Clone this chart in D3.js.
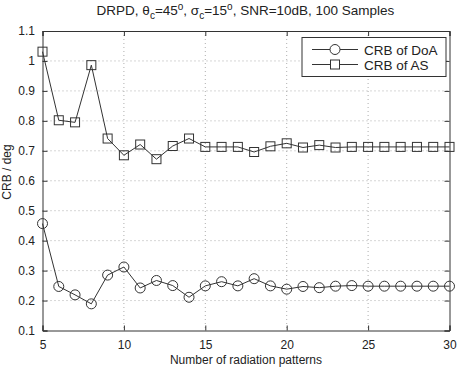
<!DOCTYPE html>
<html>
<head>
<meta charset="utf-8">
<script src="https://cdn.jsdelivr.net/npm/d3@7"></script>
<style>
  body { margin: 0; background: #fff; }
  svg { display: block; font-family: "Liberation Sans", Arial, sans-serif; }
</style>
</head>
<body>
<svg id="chart" width="459" height="370"></svg>
<script>
// values
const patterns = [5, 6, 7, 8, 9, 10, 11, 12, 13, 14, 15, 16, 17, 18, 19, 20, 21, 22, 23, 24, 25, 26, 27, 28, 29, 30];
const crbDoA = [0.457, 0.247, 0.219, 0.189, 0.285, 0.312, 0.242, 0.267, 0.250, 0.211, 0.249, 0.263, 0.249, 0.273, 0.249, 0.238, 0.247, 0.243, 0.248, 0.250, 0.248, 0.248, 0.248, 0.248, 0.248, 0.248];
const crbAS = [1.031, 0.802, 0.795, 0.986, 0.741, 0.685, 0.721, 0.672, 0.716, 0.741, 0.713, 0.713, 0.713, 0.696, 0.715, 0.725, 0.711, 0.719, 0.711, 0.713, 0.713, 0.713, 0.713, 0.713, 0.713, 0.713];
const xTicks = [5, 10, 15, 20, 25, 30];
const yTicks = [0.1, 0.2, 0.3, 0.4, 0.5, 0.6, 0.7, 0.8, 0.9, 1, 1.1];
const seriesNames = ["CRB of DoA", "CRB of AS"];

const width = 459, height = 370;
const margin = { top: 31, right: 9.5, bottom: 39.5, left: 42.5 };
const innerWidth = width - margin.left - margin.right;
const innerHeight = height - margin.top - margin.bottom;

const svg = d3.select("#chart");
const g = svg.append("g")
    .attr("transform", `translate(${margin.left},${margin.top})`);

const xScale = d3.scaleLinear().domain([5, 30]).range([0, innerWidth]);
const yScale = d3.scaleLinear().domain([0.1, 1.1]).range([innerHeight, 0]);

const ink = "#333";

// dotted grid
g.selectAll(".gx").data(xTicks.slice(1, -1)).enter().append("line")
    .attr("x1", d => xScale(d)).attr("x2", d => xScale(d))
    .attr("y1", 0).attr("y2", innerHeight)
    .attr("stroke", "#999").attr("stroke-width", 0.8).attr("stroke-dasharray", "1,3");
g.selectAll(".gy").data(yTicks.slice(1, -1)).enter().append("line")
    .attr("x1", 0).attr("x2", innerWidth)
    .attr("y1", d => yScale(d)).attr("y2", d => yScale(d))
    .attr("stroke", "#999").attr("stroke-width", 0.8).attr("stroke-dasharray", "1,3");

// axes with inward ticks (box style)
const xAxis = g.append("g").attr("transform", `translate(0,${innerHeight})`)
    .call(d3.axisBottom(xScale).tickValues(xTicks).tickSize(-5).tickPadding(10).tickFormat(d3.format("d")));
const xTop = g.append("g")
    .call(d3.axisTop(xScale).tickValues(xTicks).tickSize(-5).tickFormat(""));
const yAxis = g.append("g")
    .call(d3.axisLeft(yScale).tickValues(yTicks).tickSize(-5).tickFormat(""));
const yRight = g.append("g").attr("transform", `translate(${innerWidth},0)`)
    .call(d3.axisRight(yScale).tickValues(yTicks).tickSize(-5).tickFormat(""));

// y tick labels, right-aligned just left of the axis
const yLabels = svg.append("g").attr("transform", `translate(0,${margin.top})`)
    .call(d3.axisRight(yScale).tickValues(yTicks).tickSize(0).tickPadding(margin.left - 7.5)
        .tickFormat(d => d3.format("")(+d.toFixed(1))));
yLabels.select(".domain").remove();
yLabels.selectAll("text").attr("text-anchor", "end");

[xAxis, xTop, yAxis, yRight, yLabels].forEach(a => {
    a.select(".domain").attr("stroke", ink).attr("stroke-width", 1);
    a.selectAll(".tick line").attr("stroke", ink);
    a.selectAll("text").attr("fill", "#222").attr("font-size", "12px")
        .attr("font-family", "'Liberation Sans', Arial, sans-serif");
});

// series
const line = d3.line()
    .x((d, i) => xScale(patterns[i]))
    .y(d => yScale(d));

g.append("path").attr("d", line(crbAS))
    .attr("fill", "none").attr("stroke", ink).attr("stroke-width", 1);
g.append("path").attr("d", line(crbDoA))
    .attr("fill", "none").attr("stroke", ink).attr("stroke-width", 1);

g.selectAll(".sq").data(crbAS).enter().append("rect")
    .attr("x", (d, i) => xScale(patterns[i]) - 4.5)
    .attr("y", d => yScale(d) - 4.5)
    .attr("width", 9).attr("height", 9)
    .attr("fill", "none").attr("stroke", ink).attr("stroke-width", 1);

g.selectAll(".ci").data(crbDoA).enter().append("circle")
    .attr("cx", (d, i) => xScale(patterns[i]))
    .attr("cy", d => yScale(d))
    .attr("r", 5)
    .attr("fill", "none").attr("stroke", ink).attr("stroke-width", 1);

// legend
const legend = svg.append("g").attr("transform", "translate(302,37.5)");
legend.append("rect").attr("width", 144).attr("height", 39)
    .attr("fill", "#fff").attr("stroke", ink).attr("stroke-width", 1);
seriesNames.forEach((name, i) => {
    const y = 12 + i * 15;
    legend.append("line").attr("x1", 10).attr("x2", 56).attr("y1", y).attr("y2", y)
        .attr("stroke", ink).attr("stroke-width", 1);
    if (i === 0) {
        legend.append("circle").attr("cx", 33).attr("cy", y).attr("r", 5)
            .attr("fill", "#fff").attr("stroke", ink);
    } else {
        legend.append("rect").attr("x", 28.5).attr("y", y - 4.5).attr("width", 9).attr("height", 9)
            .attr("fill", "#fff").attr("stroke", ink);
    }
    legend.append("text").attr("x", 62).attr("y", y + 5)
        .attr("font-size", "13.5px").attr("fill", "#222").text(name);
});

// title, sub/superscripts done with dy so they stay inside the text box
const title = svg.append("text")
    .attr("x", 245.5).attr("y", 15)
    .attr("text-anchor", "middle")
    .attr("font-size", "13.5px").attr("fill", "#222");
const parts = [
    ["DRPD, θ", 0], ["c", 4, true], ["=45", -4], ["o", -5, true], [", σ", 5],
    ["c", 4, true], ["=15", -4], ["o", -5, true], [", SNR=10dB, 100 Samples", 5]
];
parts.forEach(([t, dy, small]) => {
    const s = title.append("tspan").attr("dy", dy).text(t);
    if (small) s.attr("font-size", "10px");
});

// axis labels
svg.append("text")
    .attr("x", margin.left + innerWidth / 2).attr("y", 364)
    .attr("text-anchor", "middle")
    .attr("font-size", "12px").attr("fill", "#222")
    .text("Number of radiation patterns");

svg.append("text")
    .attr("transform", `translate(11,172) rotate(-90)`)
    .attr("text-anchor", "middle")
    .attr("font-size", "12px").attr("fill", "#222")
    .text("CRB / deg");
</script>
</body>
</html>
